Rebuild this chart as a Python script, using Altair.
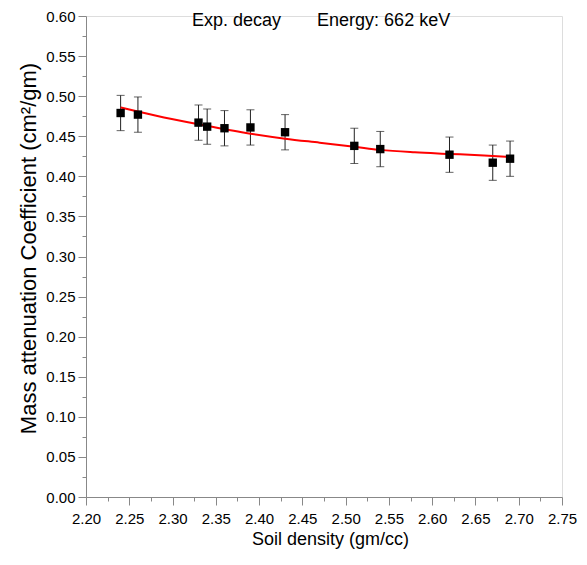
import altair as alt
import pandas as pd

# measured points
density = [2.24, 2.26, 2.33, 2.34, 2.36, 2.39, 2.43, 2.51, 2.54, 2.62, 2.67, 2.69]
coeff = [0.479, 0.477, 0.467, 0.462, 0.460, 0.461, 0.455, 0.438, 0.434, 0.427, 0.417, 0.422]
err = [0.022, 0.022, 0.022, 0.022, 0.022, 0.022, 0.022, 0.022, 0.022, 0.022, 0.022, 0.022]

# exponential decay fit curve
fit_x = [2.24, 2.28, 2.33, 2.38, 2.43, 2.47, 2.51, 2.54, 2.58, 2.62, 2.66, 2.69]
fit_y = [0.486, 0.476, 0.465, 0.455, 0.447, 0.442, 0.437, 0.433, 0.430, 0.428, 0.426, 0.424]

# axis ticks (majors every 0.05, minors halfway)
x_ticks = [round(2.20 + i * 0.025, 3) for i in range(23)]
y_ticks = [round(i * 0.025, 3) for i in range(25)]

# annotations
ann_text = ["Exp. decay", "Energy: 662 keV"]
ann_x = [2.3225, 2.467]
ann_y = [0.5875, 0.5875]

FONT = "Liberation Sans"

pts = pd.DataFrame({"d": density, "v": coeff, "e": err})
pts["lo"] = pts["v"] - pts["e"]
pts["hi"] = pts["v"] + pts["e"]
fit = pd.DataFrame({"d": fit_x, "v": fit_y})
ann = pd.DataFrame({"d": ann_x, "v": ann_y, "t": ann_text})

major_test = "round(datum.value*40) % 2 == 0"

xscale = alt.Scale(domain=[2.20, 2.75], nice=False, zero=False)
yscale = alt.Scale(domain=[0.0, 0.60], nice=False, zero=False)

xaxis = alt.Axis(
    title="Soil density (gm/cc)",
    values=x_ticks,
    labelExpr=f"{major_test} ? format(datum.value, '.2f') : ''",
    labelOverlap=False,
    labelFlush=False,
    tickSize={"condition": {"test": major_test, "value": 8}, "value": 4},
    labelPadding=6,
    titlePadding=4,
    titleX=244,
    labelFontSize=15,
    titleFontSize=18,
    titleFontWeight="normal",
    grid=False,
)
yaxis = alt.Axis(
    title="Mass attenuation Coefficient (cm²/gm)",
    values=y_ticks,
    labelExpr=f"{major_test} ? format(datum.value, '.2f') : ''",
    labelOverlap=False,
    labelFlush=False,
    tickSize={"condition": {"test": major_test, "value": 8}, "value": 4},
    labelPadding=3,
    titlePadding=5,
    titleY=232,
    labelFontSize=15,
    titleFontSize=22,
    titleFontWeight="normal",
    grid=False,
)

X = alt.X("d:Q", scale=xscale, axis=xaxis)
Y = alt.Y("v:Q", scale=yscale, axis=yaxis)

bars = alt.Chart(pts).mark_rule(color="#222222", strokeWidth=1).encode(
    x=X, y=alt.Y("lo:Q", scale=yscale, axis=yaxis), y2="hi:Q"
)
cap_lo = alt.Chart(pts).mark_tick(color="#222222", orient="horizontal", size=8, thickness=1).encode(
    x=X, y=alt.Y("lo:Q", scale=yscale, axis=yaxis)
)
cap_hi = alt.Chart(pts).mark_tick(color="#222222", orient="horizontal", size=8, thickness=1).encode(
    x=X, y=alt.Y("hi:Q", scale=yscale, axis=yaxis)
)
line = alt.Chart(fit).mark_line(color="#ff0000", strokeWidth=2, interpolate="monotone").encode(
    x=X, y=Y
)
squares = alt.Chart(pts).mark_point(shape="square", filled=True, color="black", size=70, opacity=1).encode(
    x=X, y=Y
)
texts = alt.Chart(ann).mark_text(
    align="left", baseline="alphabetic", fontSize=18, font=FONT, color="black"
).encode(x=X, y=Y, text="t:N")

chart = (
    alt.layer(bars, cap_lo, cap_hi, line, squares, texts)
    .properties(
        width=476,
        height=481,
        autosize=alt.AutoSizeParams(type="none"),
        padding={"left": 78, "top": 8, "right": 17, "bottom": 60},
    )
    .configure_view(stroke=None)
    .configure_axis(
        labelFont=FONT,
        titleFont=FONT,
        labelColor="black",
        titleColor="black",
        domainColor="black",
        tickColor="black",
        domainWidth=1,
        tickWidth=1,
    )
    .configure(background="white")
)

chart.save("out.html", embed_options={"renderer": "svg", "actions": False})
